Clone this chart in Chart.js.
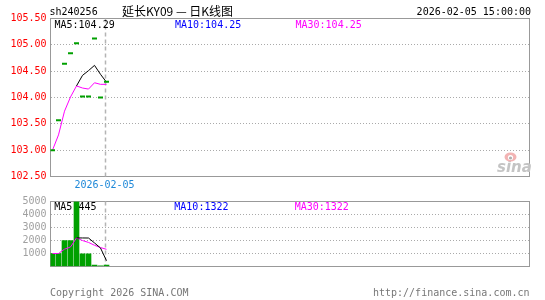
<!DOCTYPE html>
<html><head><meta charset="utf-8">
<script src="https://cdn.jsdelivr.net/npm/chart.js@4/dist/chart.umd.min.js"></script>
<style>
html,body{margin:0;padding:0;background:#fff;}
#wrap{position:relative;width:545px;height:300px;overflow:hidden;}
canvas{position:absolute;left:0;}
</style></head><body>
<div id="wrap">
<canvas id="kc" width="545" height="195" style="top:0;width:545px;height:195px"></canvas>
<canvas id="vc" width="545" height="110" style="top:190px;width:545px;height:110px"></canvas>
</div>
<script>
// ---- data ----
const days       = [1,2,3,4,5,6,7,8,9,10];
const closes     = [103.00,103.57,104.64,104.84,105.03,104.02,104.02,105.12,104.00,104.30];
const priceMA5   = [null,null,null,null,104.22,104.42,104.51,104.61,104.44,104.29];
const priceMA10  = [null,null,null,null,null,null,null,null,null,104.25];
const priceMA30  = [103.00,103.29,103.74,104.01,104.22,104.18,104.16,104.28,104.25,104.25];
const volumes    = [1000,1000,2000,2000,4995,980,980,110,45,110];
const volMA5     = [null,null,null,null,2199,2195,2191,1813,1422,445];
const volMA10    = [null,null,null,null,null,null,null,null,null,1322];
const volMA30    = [1000,1000,1333,1500,2199,1996,1851,1633,1457,1322];
const priceRange = [102.5,105.5];
const volRange   = [0,5000];
const xTickLabels = ['2026-02-05'];
const cursorDay  = 10;
const stockCode  = 'sh240256';
const chartTitle = '延长KY09 — 日K线图';
const timeStamp  = '2026-02-05 15:00:00';

const MONO = '"DejaVu Sans Mono", monospace';
const GREEN = '#00a000';
const GRID = '#aaaaaa';
const BOX = '#999999';
Chart.defaults.font.family = MONO;
Chart.defaults.font.size = 10;

const pts = arr => days.map((d,i)=>({x:d, y:arr[i]}));
const xMin = 2/3, xMax = 2/3 + 479/6;

function boxAndCursor(chart){
  const {ctx, chartArea:a, scales} = chart;
  ctx.save();
  ctx.strokeStyle = BOX; ctx.lineWidth = 1; ctx.setLineDash([]);
  ctx.strokeRect(a.left, a.top, a.right-a.left, a.bottom-a.top);
  const cx = Math.round(scales.x.getPixelForValue(cursorDay - 1/3)) + 0.5;
  ctx.strokeStyle = '#b4b4b4'; ctx.lineWidth = 1.5; ctx.setLineDash([4,3]);
  ctx.beginPath(); ctx.moveTo(cx, a.top); ctx.lineTo(cx, a.bottom); ctx.stroke();
  ctx.restore();
}

const xScale = (showLabel) => ({
  type:'linear', min:xMin, max:xMax, offset:false, display: showLabel,
  grid:{display:false, drawTicks:false}, border:{display:false},
  afterBuildTicks: s => { s.ticks = [{value: cursorDay - 1/3}]; },
  afterFit: s => { s.height = 18.5; },
  ticks:{ autoSkip:false, maxRotation:0, padding:3, color:'#1e88d8',
          font:{family:MONO,size:10}, callback:(v,i)=>xTickLabels[i] }
});

// ---- price panel ----
new Chart(document.getElementById('kc'), {
  type:'line',
  data:{ datasets:[
    {data:pts(closes), showLine:false, pointStyle:'line', pointRadius:2.5, pointHoverRadius:2.5,
     pointBorderWidth:2, pointBorderColor:GREEN, borderColor:GREEN, order:0},
    {data:pts(priceMA5), borderColor:'#000000', borderWidth:1, pointRadius:0, order:1},
    {data:pts(priceMA30), borderColor:'#ff00ff', borderWidth:1, pointRadius:0, order:2},
    {data:pts(priceMA10), borderColor:'#0000ff', borderWidth:1, pointRadius:0, order:3}
  ]},
  options:{
    responsive:false, animation:false, events:[],
    layout:{padding:{left:0,right:15.5,top:18.5,bottom:0}},
    plugins:{legend:{display:false}, tooltip:{enabled:false}},
    scales:{
      x: xScale(true),
      y:{ min:priceRange[0], max:priceRange[1],
          afterFit: s => { s.width = 50.5; },
          grid:{color:GRID, drawTicks:false, lineWidth:1},
          border:{display:false, dash:[1,2]},
          ticks:{stepSize:0.5, autoSkip:false, padding:4, color:'#ff0000', font:{family:MONO,size:10},
                 callback:v=>Number(v).toFixed(2)} }
    }
  },
  plugins:[{
    id:'deco',
    beforeDatasetsDraw(chart){
      boxAndCursor(chart);
      const ctx = chart.ctx;
      ctx.save();
      ctx.font = '10px '+MONO; ctx.textAlign='left'; ctx.textBaseline='alphabetic';
      ctx.fillStyle='#000'; ctx.fillText('MA5:'+priceMA5[9].toFixed(2), 54.5, 28);
      ctx.fillStyle='#0000ff'; ctx.fillText('MA10:'+priceMA10[9].toFixed(2), 175, 28);
      ctx.fillStyle='#ff00ff'; ctx.fillText('MA30:'+priceMA30[9].toFixed(2), 295.5, 28);
      // sina watermark
      ctx.fillStyle='#c4c4c4'; ctx.font='italic bold 15px "DejaVu Sans"';
      ctx.fillText('sina', 497, 172);
      ctx.fillStyle='#f2b4b4';
      ctx.beginPath(); ctx.ellipse(510.5, 157, 6, 4.5, 0, 0, Math.PI*2); ctx.fill();
      ctx.fillStyle='#ffffff';
      ctx.beginPath(); ctx.arc(510.5, 157.5, 2.6, 0, Math.PI*2); ctx.fill();
      ctx.fillStyle='#b0b0b0';
      ctx.beginPath(); ctx.arc(510.5, 158, 1.6, 0, Math.PI*2); ctx.fill();
      ctx.restore();
    },
    afterDraw(chart){
      const ctx = chart.ctx;
      ctx.save();
      ctx.fillStyle='#000'; ctx.textBaseline='alphabetic';
      ctx.font='10px '+MONO; ctx.textAlign='left';
      ctx.fillText(stockCode, 49.5, 15);
      ctx.textAlign='right'; ctx.fillText(timeStamp, 531, 15);
      ctx.textAlign='left'; ctx.font='12px "Noto Sans CJK SC"';
      ctx.fillText(chartTitle, 122, 15.5);
      ctx.restore();
    }
  }]
});

// ---- volume panel ----
new Chart(document.getElementById('vc'), {
  type:'bar',
  data:{ datasets:[
    {type:'line', data:pts(volMA5), borderColor:'#000000', borderWidth:1, pointRadius:0, order:0},
    {type:'line', data:pts(volMA30), borderColor:'#ff00ff', borderWidth:1, pointRadius:0, order:1},
    {type:'line', data:pts(volMA10), borderColor:'#0000ff', borderWidth:1, pointRadius:0, order:2},
    {type:'bar', data:pts(volumes), backgroundColor:GREEN, borderWidth:0, barThickness:5, grouped:false, order:3}
  ]},
  options:{
    responsive:false, animation:false, events:[],
    layout:{padding:{left:0,right:15.5,top:11.5,bottom:15}},
    plugins:{legend:{display:false}, tooltip:{enabled:false}},
    scales:{
      x: xScale(false),
      y:{ min:volRange[0], max:volRange[1],
          afterFit: s => { s.width = 50.5; },
          grid:{color:GRID, drawTicks:false, lineWidth:1},
          border:{display:false, dash:[1,2]},
          ticks:{stepSize:1000, autoSkip:false, padding:4, color:'#a0a0a0', font:{family:MONO,size:10},
                 callback:v=> v===0 ? '' : String(v)} }
    }
  },
  plugins:[{
    id:'deco2',
    beforeDatasetsDraw(chart){
      boxAndCursor(chart);
      const ctx = chart.ctx;
      ctx.save();
      ctx.font = '10px '+MONO; ctx.textAlign='left'; ctx.textBaseline='alphabetic';
      ctx.fillStyle='#000'; ctx.fillText('MA5:'+Math.round(volMA5[9]), 54.3, 20);
      ctx.fillStyle='#0000ff'; ctx.fillText('MA10:'+Math.round(volMA10[9]), 174.3, 20);
      ctx.fillStyle='#ff00ff'; ctx.fillText('MA30:'+Math.round(volMA30[9]), 294.7, 20);
      ctx.restore();
    },
    afterDraw(chart){
      const ctx = chart.ctx;
      ctx.save();
      ctx.font = '10px '+MONO; ctx.textBaseline='alphabetic'; ctx.fillStyle='#777777';
      ctx.textAlign='left'; ctx.fillText('Copyright 2026 SINA.COM', 50, 105.5);
      ctx.textAlign='right'; ctx.fillText('http://finance.sina.com.cn', 529.5, 105.5);
      ctx.restore();
    }
  }]
});
</script>
</body></html>
